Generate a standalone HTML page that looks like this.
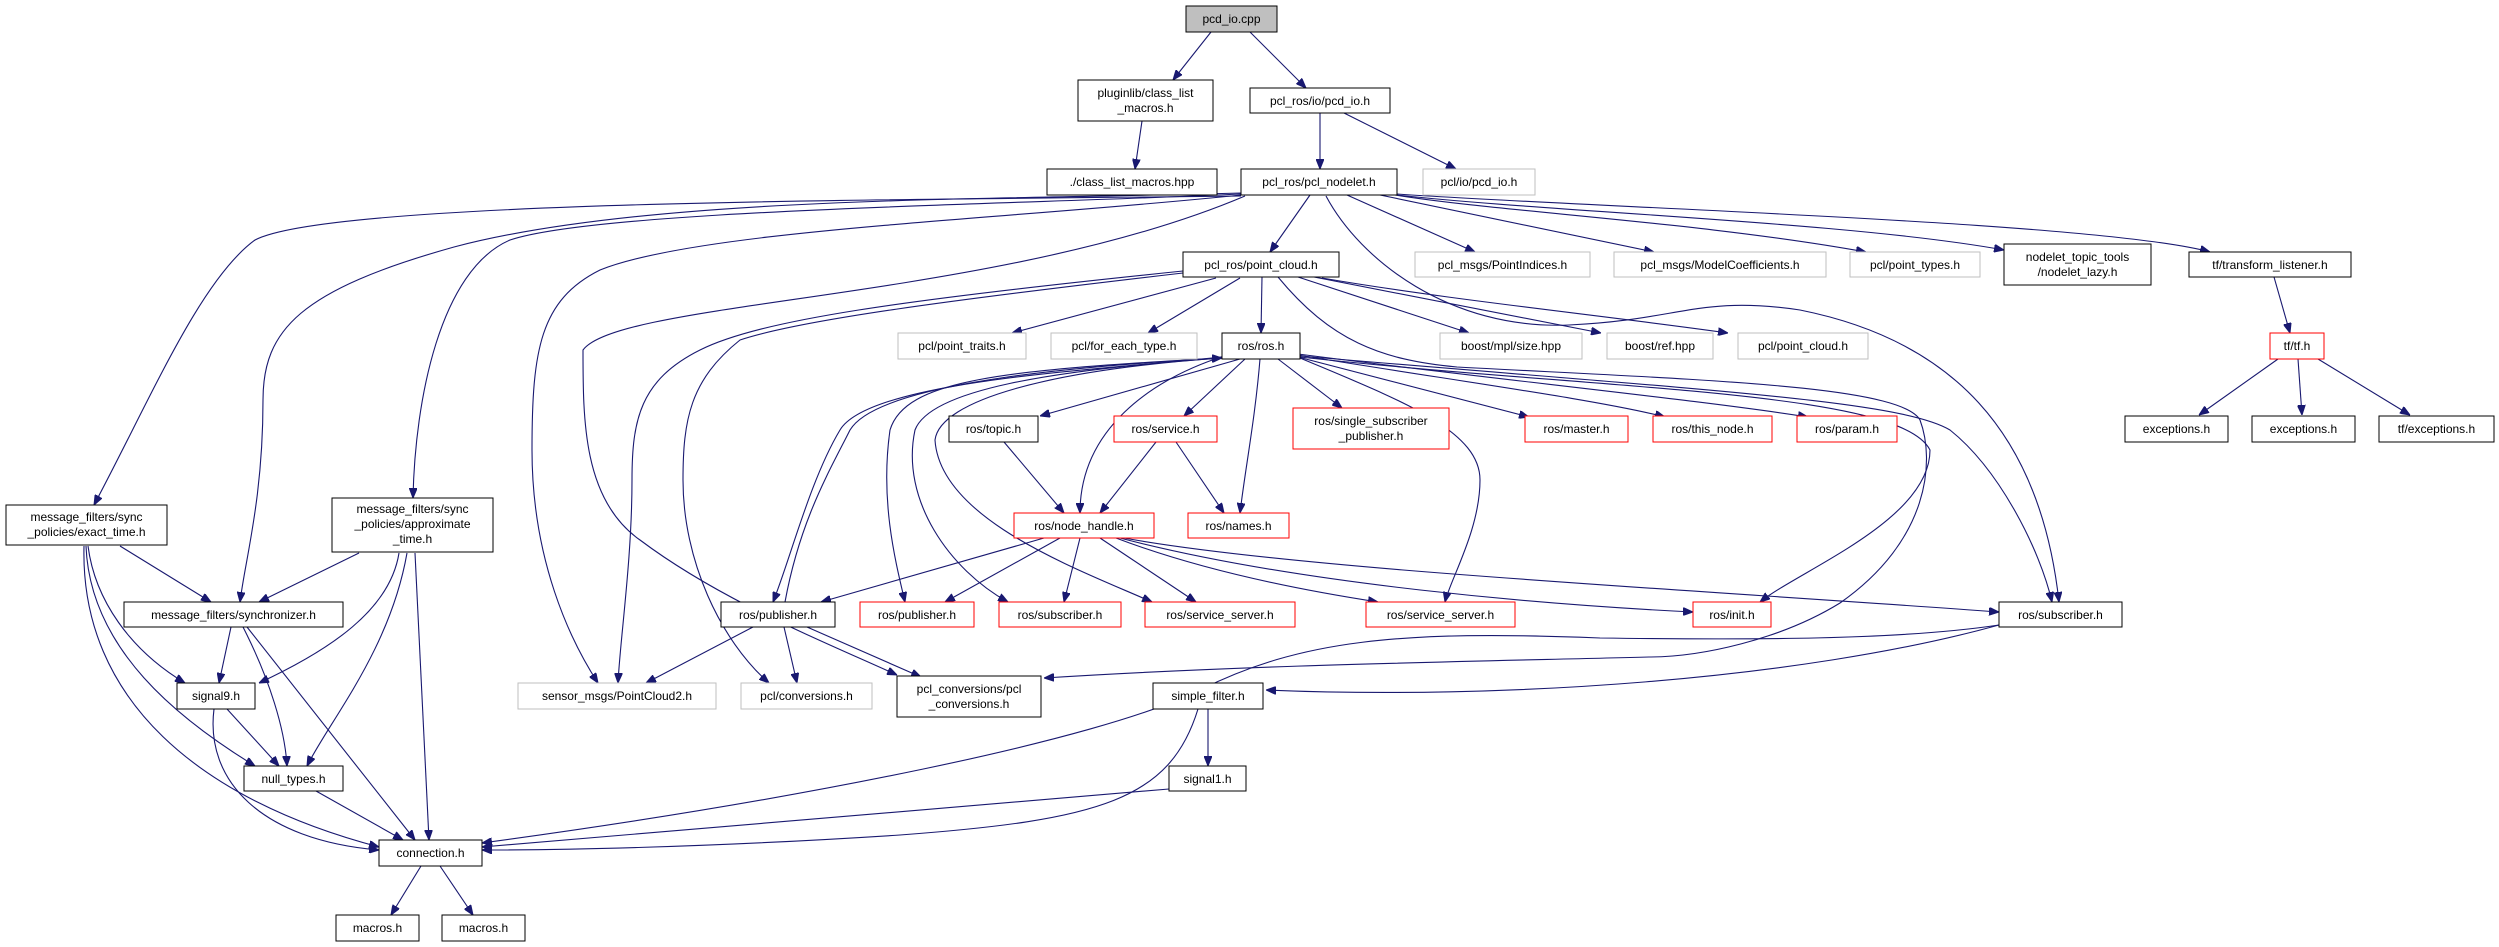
<!DOCTYPE html>
<html><head><meta charset="utf-8"><style>
html,body{margin:0;padding:0;background:#fff;}
svg{display:block;}
text{font-family:"Liberation Sans",sans-serif;font-size:12px;fill:#000;text-anchor:middle;}
.e{fill:none;stroke:#191970;stroke-width:1.1;marker-end:url(#ah);}
.n{fill:#fff;stroke:#000;stroke-width:1;}
.g{fill:#fff;stroke:#bfbfbf;stroke-width:1;}
.r{fill:#fff;stroke:#ff0000;stroke-width:1;}
</style></head><body>
<svg width="2499" height="947" viewBox="0 0 2499 947" xmlns="http://www.w3.org/2000/svg">
<defs><marker id="ah" markerUnits="userSpaceOnUse" markerWidth="10" markerHeight="8" refX="10" refY="4" orient="auto"><path d="M0,0 L10,4 L0,8 z" fill="#191970" stroke="#191970"/></marker></defs>

<!-- edges -->
<path class="e" d="M1211,32 L1173,80"/>
<path class="e" d="M1250,32 L1306,88"/>
<path class="e" d="M1142,121 L1135,169"/>
<path class="e" d="M1320,113 L1320,169"/>
<path class="e" d="M1344,113 L1456,169"/>
<path class="e" d="M1310,195 L1270,252"/>
<path class="e" d="M1347,195 L1475,252"/>
<path class="e" d="M1380,195 L1654,252"/>
<path class="e" d="M1395,195 C1500,212 1700,222 1866,252"/>
<path class="e" d="M1397,195 C1550,212 1850,222 2004,250"/>
<path class="e" d="M1397,194 C1600,208 2100,222 2210,252"/>
<path class="e" d="M1241,196 C900,200 330,200 255,240 C200,280 150,400 94,505"/>
<path class="e" d="M1241,193 C1000,200 650,195 454,247 C300,290 263,330 263,400 C263,500 245,560 240,602"/>
<path class="e" d="M1241,194 C1000,205 600,210 510,240 C440,270 415,400 413,498"/>
<path class="e" d="M1241,195 C1000,220 700,230 600,270 C540,300 532,350 532,450 C532,560 570,640 598,683"/>
<path class="e" d="M1245,196 C1000,300 620,300 583,350 C583,420 583,500 640,540 C720,600 820,640 897,675"/>
<path class="e" d="M1326,196 C1360,260 1450,330 1569,325 C1680,320 1700,295 1800,310 C1950,340 2040,430 2059,602"/>
<path class="e" d="M1262,277 L1261,333"/>
<path class="e" d="M1216,278 L1012,333"/>
<path class="e" d="M1240,278 L1148,333"/>
<path class="e" d="M1298,277 L1469,333"/>
<path class="e" d="M1314,277 L1601,333"/>
<path class="e" d="M1322,278 C1450,300 1600,315 1728,333"/>
<path class="e" d="M1183,271 C900,300 760,320 700,350 C640,380 632,420 632,480 C632,560 620,640 618,683"/>
<path class="e" d="M1183,273 C950,300 800,320 740,340 C690,380 683,420 683,480 C683,560 720,640 769,683"/>
<path class="e" d="M1278,277 C1330,340 1380,360 1457,367 C1700,380 1900,385 1920,420 C1935,460 1930,540 1840,603 C1780,640 1700,657 1649,657 C1450,662 1250,665 1044,678"/>
<path class="e" d="M1240,359 L1040,416"/>
<path class="e" d="M1245,359 L1184,416"/>
<path class="e" d="M1278,359 L1342,408"/>
<path class="e" d="M1298,357 L1529,417"/>
<path class="e" d="M1298,355 C1450,380 1600,400 1665,417"/>
<path class="e" d="M1298,354 C1500,380 1700,400 1808,417"/>
<path class="e" d="M1260,359 C1255,420 1245,470 1240,513"/>
<path class="e" d="M1224,356 C1150,380 1080,430 1080,513"/>
<path class="e" d="M1004,442 L1064,513"/>
<path class="e" d="M1156,442 L1100,513"/>
<path class="e" d="M1176,442 L1224,513"/>
<path class="e" d="M1222,357 C1100,370 870,380 840,430 C810,480 790,560 773,602"/>
<path class="e" d="M785,602 C800,520 830,470 850,430 C880,380 1100,365 1222,358"/>
<path class="e" d="M1222,358 C1000,370 905,380 890,430 C880,500 895,560 905,602"/>
<path class="e" d="M1222,358 C1050,370 930,390 915,430 C900,500 950,570 1008,602"/>
<path class="e" d="M1222,358 C1050,370 940,400 935,440 C940,520 1080,570 1152,602"/>
<path class="e" d="M1300,358 C1400,400 1480,430 1480,480 C1480,530 1450,580 1445,602"/>
<path class="e" d="M1300,357 C1600,390 1900,390 1930,450 C1930,520 1800,570 1760,602"/>
<path class="e" d="M1300,356 C1700,390 1900,400 1950,430 C2000,470 2040,550 2052,602"/>
<path class="e" d="M1044,538 L821,602"/>
<path class="e" d="M1060,538 L945,602"/>
<path class="e" d="M1080,538 L1064,602"/>
<path class="e" d="M1100,538 L1196,602"/>
<path class="e" d="M1116,538 C1200,570 1300,590 1378,602"/>
<path class="e" d="M1120,538 C1300,585 1550,605 1693,612"/>
<path class="e" d="M1124,538 C1300,570 1700,590 1999,612"/>
<path class="e" d="M120,546 L211,602"/>
<path class="e" d="M88,546 C95,600 130,650 185,683"/>
<path class="e" d="M86,546 C90,650 180,720 255,766"/>
<path class="e" d="M84,546 C80,700 200,800 379,847"/>
<path class="e" d="M359,553 L259,602"/>
<path class="e" d="M399,553 C390,610 330,650 259,683"/>
<path class="e" d="M407,553 C390,650 330,720 307,766"/>
<path class="e" d="M415,553 L429,840"/>
<path class="e" d="M231,627 L219,683"/>
<path class="e" d="M243,627 C270,680 285,730 287,766"/>
<path class="e" d="M247,627 L415,840"/>
<path class="e" d="M227,709 L279,766"/>
<path class="e" d="M214,709 C205,780 260,840 379,850"/>
<path class="e" d="M316,791 L403,840"/>
<path class="e" d="M421,866 L391,915"/>
<path class="e" d="M440,866 L473,915"/>
<path class="e" d="M753,627 L646,683"/>
<path class="e" d="M784,627 L797,683"/>
<path class="e" d="M807,627 L921,677"/>
<path class="e" d="M1208,709 L1208,766"/>
<path class="e" d="M1198,709 C1170,800 1100,820 900,835 C700,848 550,850 482,850"/>
<path class="e" d="M1169,789 L482,847"/>
<path class="e" d="M1999,625 C1900,640 1750,640 1600,638 C1400,630 1300,640 1200,690 C1100,740 800,800 482,843"/>
<path class="e" d="M1999,625 C1800,680 1500,700 1266,690"/>
<path class="e" d="M2274,277 L2290,333"/>
<path class="e" d="M2278,359 L2199,415"/>
<path class="e" d="M2298,359 L2302,415"/>
<path class="e" d="M2318,359 L2410,415"/>

<!-- nodes -->
<rect x="1186" y="6" width="91" height="26" fill="#bfbfbf" stroke="#000"/><text x="1231.5" y="23">pcd_io.cpp</text>
<rect class="n" x="1078" y="80" width="135" height="41"/><text x="1145.5" y="97">pluginlib/class_list</text><text x="1145.5" y="112">_macros.h</text>
<rect class="n" x="1047" y="169" width="170" height="26"/><text x="1132" y="186">./class_list_macros.hpp</text>
<rect class="n" x="1250" y="88" width="140" height="25"/><text x="1320" y="105">pcl_ros/io/pcd_io.h</text>
<rect class="n" x="1241" y="169" width="156" height="26"/><text x="1319" y="186">pcl_ros/pcl_nodelet.h</text>
<rect class="g" x="1423" y="169" width="112" height="26"/><text x="1479" y="186">pcl/io/pcd_io.h</text>
<rect class="n" x="1183" y="252" width="156" height="25"/><text x="1261" y="269">pcl_ros/point_cloud.h</text>
<rect class="g" x="1415" y="252" width="175" height="25"/><text x="1502.5" y="269">pcl_msgs/PointIndices.h</text>
<rect class="g" x="1614" y="252" width="212" height="25"/><text x="1720" y="269">pcl_msgs/ModelCoefficients.h</text>
<rect class="g" x="1850" y="252" width="130" height="25"/><text x="1915" y="269">pcl/point_types.h</text>
<rect class="n" x="2004" y="244" width="147" height="41"/><text x="2077.5" y="261">nodelet_topic_tools</text><text x="2077.5" y="276">/nodelet_lazy.h</text>
<rect class="n" x="2189" y="252" width="162" height="25"/><text x="2270" y="269">tf/transform_listener.h</text>
<rect class="g" x="898" y="333" width="128" height="26"/><text x="962" y="350">pcl/point_traits.h</text>
<rect class="g" x="1051" y="333" width="146" height="26"/><text x="1124" y="350">pcl/for_each_type.h</text>
<rect class="n" x="1222" y="333" width="78" height="26"/><text x="1261" y="350">ros/ros.h</text>
<rect class="g" x="1440" y="333" width="142" height="26"/><text x="1511" y="350">boost/mpl/size.hpp</text>
<rect class="g" x="1607" y="333" width="106" height="26"/><text x="1660" y="350">boost/ref.hpp</text>
<rect class="g" x="1738" y="333" width="130" height="26"/><text x="1803" y="350">pcl/point_cloud.h</text>
<rect class="r" x="2270" y="333" width="54" height="26"/><text x="2297" y="350">tf/tf.h</text>
<rect class="n" x="949" y="416" width="89" height="26"/><text x="993.5" y="433">ros/topic.h</text>
<rect class="r" x="1114" y="416" width="103" height="26"/><text x="1165.5" y="433">ros/service.h</text>
<rect class="r" x="1293" y="408" width="156" height="41"/><text x="1371" y="425">ros/single_subscriber</text><text x="1371" y="440">_publisher.h</text>
<rect class="r" x="1525" y="416" width="103" height="26"/><text x="1576.5" y="433">ros/master.h</text>
<rect class="r" x="1653" y="416" width="119" height="26"/><text x="1712.5" y="433">ros/this_node.h</text>
<rect class="r" x="1797" y="416" width="100" height="26"/><text x="1847" y="433">ros/param.h</text>
<rect class="n" x="2125" y="416" width="103" height="26"/><text x="2176.5" y="433">exceptions.h</text>
<rect class="n" x="2252" y="416" width="103" height="26"/><text x="2303.5" y="433">exceptions.h</text>
<rect class="n" x="2379" y="416" width="115" height="26"/><text x="2436.5" y="433">tf/exceptions.h</text>
<rect class="n" x="6" y="505" width="161" height="40"/><text x="86.5" y="521">message_filters/sync</text><text x="86.5" y="536">_policies/exact_time.h</text>
<rect class="n" x="332" y="498" width="161" height="54"/><text x="412.5" y="513">message_filters/sync</text><text x="412.5" y="528">_policies/approximate</text><text x="412.5" y="543">_time.h</text>
<rect class="r" x="1014" y="513" width="140" height="25"/><text x="1084" y="530">ros/node_handle.h</text>
<rect class="r" x="1188" y="513" width="101" height="25"/><text x="1238.5" y="530">ros/names.h</text>
<rect class="n" x="124" y="602" width="219" height="25"/><text x="233.5" y="619">message_filters/synchronizer.h</text>
<rect class="n" x="721" y="602" width="114" height="25"/><text x="778" y="619">ros/publisher.h</text>
<rect class="r" x="860" y="602" width="114" height="25"/><text x="917" y="619">ros/publisher.h</text>
<rect class="r" x="999" y="602" width="122" height="25"/><text x="1060" y="619">ros/subscriber.h</text>
<rect class="r" x="1145" y="602" width="150" height="25"/><text x="1220" y="619">ros/service_server.h</text>
<rect class="r" x="1366" y="602" width="149" height="25"/><text x="1440.5" y="619">ros/service_server.h</text>
<rect class="r" x="1693" y="602" width="78" height="25"/><text x="1732" y="619">ros/init.h</text>
<rect class="n" x="1999" y="602" width="123" height="25"/><text x="2060.5" y="619">ros/subscriber.h</text>
<rect class="n" x="177" y="683" width="78" height="26"/><text x="216" y="700">signal9.h</text>
<rect class="g" x="518" y="683" width="198" height="26"/><text x="617" y="700">sensor_msgs/PointCloud2.h</text>
<rect class="g" x="741" y="683" width="131" height="26"/><text x="806.5" y="700">pcl/conversions.h</text>
<rect class="n" x="897" y="676" width="144" height="41"/><text x="969" y="693">pcl_conversions/pcl</text><text x="969" y="708">_conversions.h</text>
<rect class="n" x="1153" y="683" width="110" height="26"/><text x="1208" y="700">simple_filter.h</text>
<rect class="n" x="244" y="766" width="99" height="25"/><text x="293.5" y="783">null_types.h</text>
<rect class="n" x="1169" y="766" width="77" height="25"/><text x="1207.5" y="783">signal1.h</text>
<rect class="n" x="379" y="840" width="103" height="26"/><text x="430.5" y="857">connection.h</text>
<rect class="n" x="336" y="915" width="83" height="26"/><text x="377.5" y="932">macros.h</text>
<rect class="n" x="442" y="915" width="83" height="26"/><text x="483.5" y="932">macros.h</text>
</svg>
</body></html>
